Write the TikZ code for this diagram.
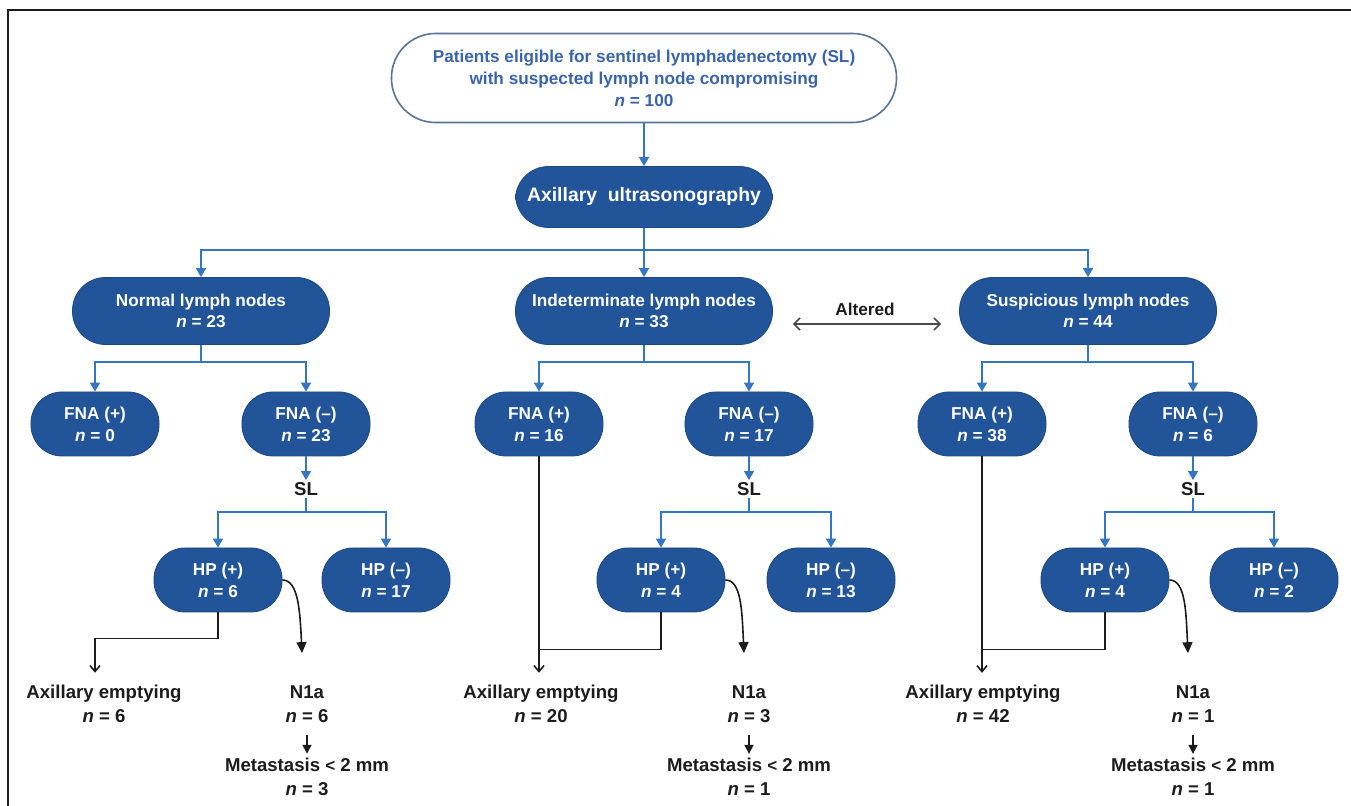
\documentclass[tikz,border=0pt]{standalone}
\usepackage{fontspec}
\setmainfont{Liberation Sans}
\usetikzlibrary{arrows.meta,positioning}

\definecolor{pillblue}{RGB}{33,84,152}
\definecolor{lineblue}{RGB}{52,118,192}
\definecolor{topblue}{RGB}{58,100,172}
\definecolor{topedge}{RGB}{88,116,152}
\definecolor{inkgray}{RGB}{28,28,28}

\begin{document}
\begin{tikzpicture}[x=0.5pt,y=-0.5pt,
    toppill/.style={draw=topedge, line width=0.8pt, fill=white, text=topblue,
      rounded corners=22pt, minimum width=252.5pt, minimum height=44.5pt,
      align=center, font=\bfseries\fontsize{8.6}{11}\selectfont},
    bigpill/.style={draw=pillblue!85!black, fill=pillblue, text=white,
      rounded corners=16.5pt, minimum width=128.5pt, minimum height=33.5pt,
      align=center, inner sep=1pt, font=\bfseries\fontsize{8.6}{10.5}\selectfont},
    smallpill/.style={draw=pillblue!85!black, fill=pillblue, text=white,
      rounded corners=15.5pt, minimum width=64pt, minimum height=32pt,
      align=center, inner sep=1pt, font=\bfseries\fontsize{8.6}{11}\selectfont},
    plain/.style={text=inkgray, align=center, inner sep=1pt,
      font=\bfseries\fontsize{9.3}{12}\selectfont},
    bluearr/.style={draw=lineblue, line width=0.8pt,
      -{Triangle[width=5pt,length=4.5pt]}},
    openarr/.style={draw=inkgray, line width=0.8pt, -{Straight Barb[length=3pt,width=5pt]}},
    curvarr/.style={draw=inkgray, line width=0.8pt, -{Triangle[width=5pt,length=5.5pt]}},
    smallarr/.style={draw=inkgray, line width=0.8pt, -{Triangle[width=4.5pt,length=4.5pt]}},
    altarr/.style={draw=inkgray!80, line width=0.8pt,
      {Straight Barb[length=3pt,width=6pt]}-{Straight Barb[length=3pt,width=6pt]}}]

    \useasboundingbox (0,0) rectangle (1351,806);
    % frame
    \draw [inkgray, line width=1pt] (8,806) -- (8,10) -- (1351,10);

    % top
    \node[toppill] (elig) at (644,78)
      {Patients eligible for sentinel lymphadenectomy (SL)\\with suspected lymph node compromising\\\textit{n} = 100};
    \node[bigpill, minimum height=30.5pt] (axus) at (644,197)
      {\fontsize{9.7}{12}\selectfont Axillary\ \ ultrasonography};
    \draw [bluearr] (elig) -- (axus);

    % ultrasonography groups
    \node[bigpill] (norm) at (201,311) {Normal lymph nodes\\\textit{n} = 23};
    \node[bigpill] (indet) at (644,311) {Indeterminate lymph nodes\\\textit{n} = 33};
    \node[bigpill] (susp) at (1088,311) {Suspicious lymph nodes\\\textit{n} = 44};
    \foreach \k in {norm,indet,susp}
      \draw [bluearr] (axus.south) -- ++(0,22) -| (\k.north);

    % altered
    \node[plain, font=\bfseries\fontsize{8.6}{10}\selectfont] (alt) at (865,309) {Altered};
    \draw [altarr] ([shift={(20,13)}]indet.east) -- ([shift={(-18,13)}]susp.west);

    % FNA
    \node[smallpill] (nfp) at (95,424) {FNA (+)\\\textit{n} = 0};
    \node[smallpill] (nfm) at (306,424) {FNA (--)\\\textit{n} = 23};
    \node[smallpill] (ifp) at (539,424) {FNA (+)\\\textit{n} = 16};
    \node[smallpill] (ifm) at (749,424) {FNA (--)\\\textit{n} = 17};
    \node[smallpill] (sfp) at (982,424) {FNA (+)\\\textit{n} = 38};
    \node[smallpill] (sfm) at (1193,424) {FNA (--)\\\textit{n} = 6};
    \foreach \p/\a/\b in {norm/nfp/nfm, indet/ifp/ifm, susp/sfp/sfm} {
      \draw [bluearr] (\p.south) -- ++(0,17) -| (\a.north);
      \draw [bluearr] (\p.south) -- ++(0,17) -| (\b.north);
    }

    % SL
    \node[plain] (nsl) at (306,489) {SL};
    \node[plain] (isl) at (749,489) {SL};
    \node[plain] (ssl) at (1193,489) {SL};

    % HP
    \node[smallpill] (nhp) at (218,580) {HP (+)\\\textit{n} = 6};
    \node[smallpill] (nhm) at (386,580) {HP (--)\\\textit{n} = 17};
    \node[smallpill] (ihp) at (661,580) {HP (+)\\\textit{n} = 4};
    \node[smallpill] (ihm) at (831,580) {HP (--)\\\textit{n} = 13};
    \node[smallpill] (shp) at (1105,580) {HP (+)\\\textit{n} = 4};
    \node[smallpill] (shm) at (1274,580) {HP (--)\\\textit{n} = 2};
    \foreach \f/\s/\a/\b in {nfm/nsl/nhp/nhm, ifm/isl/ihp/ihm, sfm/ssl/shp/shm} {
      \draw [bluearr] (\f) -- (\s);
      \draw [bluearr] (\s.south) -- ++(0,14) -| (\a.north);
      \draw [bluearr] (\s.south) -- ++(0,14) -| (\b.north);
    }

    % outcomes
    \node[plain] (nae) at (104,704) {Axillary emptying\\\textit{n} = 6};
    \node[plain] (iae) at (541,704) {Axillary emptying\\\textit{n} = 20};
    \node[plain] (sae) at (983,704) {Axillary emptying\\\textit{n} = 42};
    \node[plain] (nn1a) at (307,704) {N1a\\\textit{n} = 6};
    \node[plain] (in1a) at (749,704) {N1a\\\textit{n} = 3};
    \node[plain] (sn1a) at (1193,704) {N1a\\\textit{n} = 1};
    \node[plain] (nmet) at (307,777) {Metastasis {\fontsize{8.5}{8}\selectfont<} 2 mm\\\textit{n} = 3};
    \node[plain] (imet) at (749,777) {Metastasis {\fontsize{8.5}{8}\selectfont<} 2 mm\\\textit{n} = 1};
    \node[plain] (smet) at (1193,777) {Metastasis {\fontsize{8.5}{8}\selectfont<} 2 mm\\\textit{n} = 1};

    % axillary emptying
    \draw [openarr, shorten >=5pt] (nhp.south) -- ++(0,26) -| (nfp.south |- nae.north);
    \draw [openarr, shorten >=5pt] (ifp.south) -- (ifp.south |- iae.north);
    \draw [draw=inkgray, line width=0.8pt] (ihp.south) -- ++(0,37) -| (ifp.south);
    \draw [openarr, shorten >=5pt] (sfp.south) -- (sfp.south |- sae.north);
    \draw [draw=inkgray, line width=0.8pt] (shp.south) -- ++(0,37) -| (sfp.south);

    % N1a and metastasis
    \foreach \h/\t/\m in {nhp/nn1a/nmet, ihp/in1a/imet, shp/sn1a/smet} {
      \draw [curvarr] (\h.east) .. controls +(16,0) and +(-2,-42) .. ([shift={(-5,-30)}]\t.north);
      \draw [smallarr, shorten <=5pt, shorten >=1pt] (\t) -- (\m);
    }
  \end{tikzpicture}
\end{document}
